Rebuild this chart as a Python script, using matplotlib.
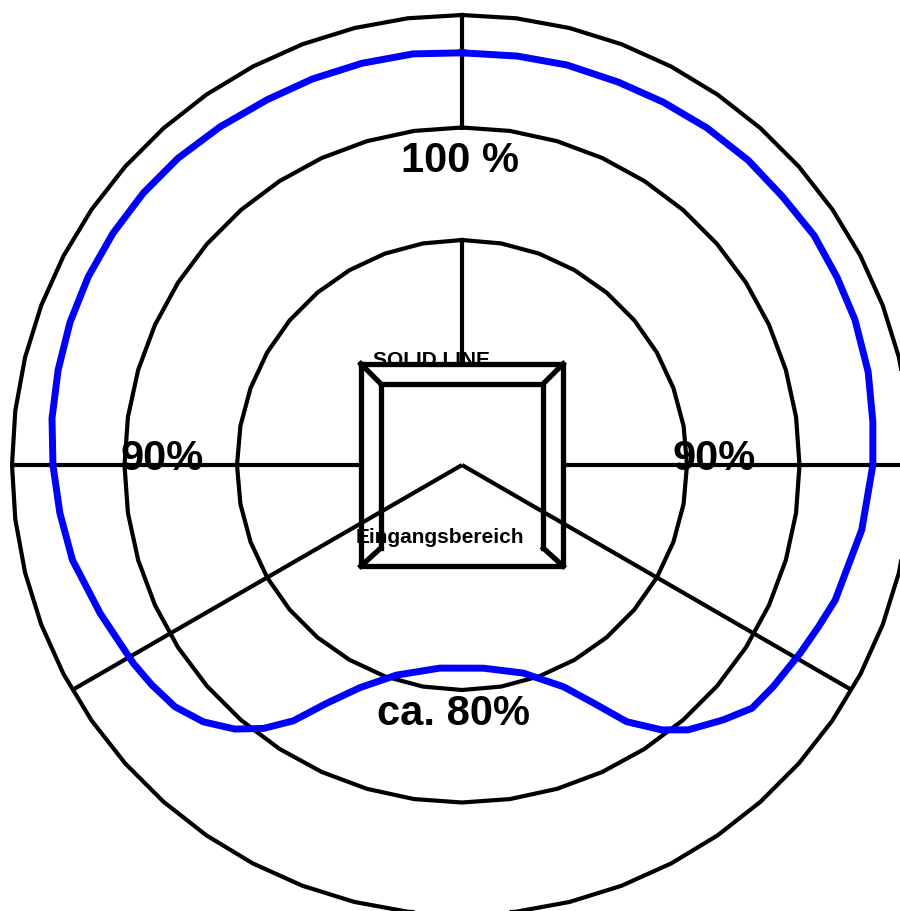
import numpy as np
import matplotlib.pyplot as plt

# Ausleuchtung je Richtung: Winkel in Grad (im Uhrzeigersinn ab oben),
# Reichweite in % des Außenrings
winkel = [0.0, 7.7, 14.7, 22.2, 29.0, 36.0, 43.2, 50.1, 56.9, 63.4, 69.7, 77.1,
          84.0, 90.0, 99.2, 109.9, 114.4, 119.1, 125.5, 130.0, 134.3, 139.5,
          143.0, 147.3, 151.1, 155.4, 163.6, 174.0, 186.2, 197.3, 204.6, 209.6,
          213.4, 217.0, 220.7, 225.2, 229.9, 234.7, 238.9, 242.5, 247.7, 256.3,
          263.2, 270.0, 276.5, 283.2, 290.0, 296.7, 303.6, 310.5, 317.2, 324.4,
          331.9, 338.8, 346.0, 353.2, 360.0]
reichweite = [91.6, 91.7, 91.9, 91.9, 92.2, 92.6, 92.9, 92.9, 93.4, 93.2, 93.1, 92.6,
              91.8, 91.3, 90.0, 88.2, 87.0, 86.0, 84.9, 84.1, 81.1, 77.4,
              73.7, 67.8, 60.4, 54.2, 48.2, 45.4, 45.4, 48.9, 54.4, 60.9,
              68.1, 73.3, 77.4, 81.0, 83.4, 84.5, 85.3, 85.7, 86.9, 89.1,
              90.0, 90.9, 91.7, 92.2, 92.7, 93.0, 93.1, 93.1, 92.9, 92.4,
              92.0, 92.0, 92.0, 92.0, 91.6]

ringe = [50, 75, 100]
beschriftungen = ['100 %', '90%', '90%', 'ca. 80%']
box_texte = ['SOLID LINE', 'Eingangsbereich']

SCHRIFT = ['Liberation Sans', 'DejaVu Sans']


def polar_xy(w, r):
    w = np.radians(np.asarray(w, dtype=float))
    r = np.asarray(r, dtype=float)
    return r * np.sin(w), r * np.cos(w)


def zeichne_ringe(ax):
    for r, n in zip(ringe, [36, 44, 52]):
        t = np.linspace(0, 360, n + 1)
        x, y = polar_xy(t, np.full(len(t), r))
        ax.plot(x, y, color='black', lw=3.0, solid_joinstyle='miter', zorder=2)


def zeichne_strahlen(ax):
    # (Richtung, von, bis) in % des Außenrings
    strahlen = [(0, 22.6, ringe[0]), (0, ringe[1], ringe[2]),
                (90, 22.5, ringe[2]), (270, 22.5, ringe[2]),
                (120, 0, ringe[2]), (240, 0, ringe[2])]
    for w, r0, r1 in strahlen:
        x, y = polar_xy([w, w], [r0, r1])
        ax.plot(x, y, color='black', lw=3.0, solid_capstyle='butt', zorder=2)


def zeichne_eingang(ax):
    a, i = 22.5, 18.1
    kw = dict(color='black', lw=3.8, zorder=4)
    ax.plot([-a, a, a, -a, -a], [a, a, -a, -a, a], **kw)
    # innerer Rahmen, unten offen
    ax.plot([-i, -i, i, i], [-i - 0.4, i, i, -i - 0.4], **kw)
    for sx, sy in [(-1, 1), (1, 1), (-1, -1), (1, -1)]:
        ax.plot([sx * a, sx * i], [sy * a, sy * (i + (0.4 if sy < 0 else 0))], **kw)

    ax.text(-6.9, 22.0, box_texte[0], ha='center', va='baseline', fontsize=15,
            fontweight='bold', family=SCHRIFT, zorder=3)
    ax.text(-4.9, -17.4, box_texte[1], ha='center', va='baseline', fontsize=15,
            fontweight='bold', family=SCHRIFT, zorder=5)


def executar():
    fig = plt.figure(figsize=(9, 9.11), dpi=100)
    ax = fig.add_axes([0, 0, 1, 1])
    ax.set_xlim(-462 / 4.5, 438 / 4.5)
    ax.set_ylim(-446 / 4.5, 465 / 4.5)
    ax.axis('off')

    zeichne_ringe(ax)
    zeichne_strahlen(ax)
    zeichne_eingang(ax)

    x, y = polar_xy(winkel, reichweite)
    ax.plot(x, y, color='#0000ff', lw=5.0, solid_joinstyle='round', zorder=6)

    lagen = [(-0.4, 65.2), (-66.7, -1.1), (56.0, -1.1), (-1.8, -57.8)]
    for txt, (tx, ty) in zip(beschriftungen, lagen):
        ax.text(tx, ty, txt, ha='center', va='baseline', fontsize=30,
                fontweight='bold', family=SCHRIFT, zorder=7)

    fig.savefig('out.png', dpi=100)
    plt.close(fig)


if __name__ == '__main__':
    executar()
